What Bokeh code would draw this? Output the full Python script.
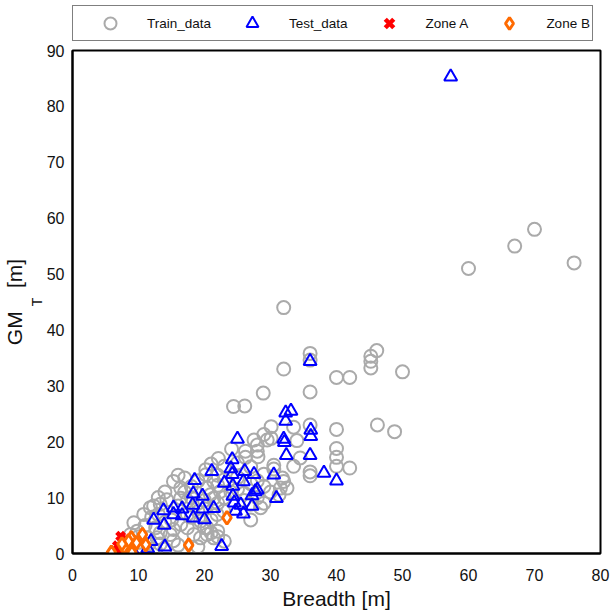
from bokeh.plotting import figure
from bokeh.layouts import column
from bokeh.models import Range1d, Legend, LegendItem, FixedTicker, Title
from bokeh.embed import file_html
from bokeh.resources import INLINE

# Training samples: ship breadth [m] vs transverse metacentric height GM_T [m]
train_breadth = [
    76, 70, 67, 60, 50, 48.8, 46.2, 46.1, 45.2, 45.2, 45.2, 42, 40, 42, 40, 40, 40, 40,
    36, 36, 36, 36, 36, 36, 34, 34.5, 33.5, 33.5, 32.5, 32, 32, 32, 31.8, 31.5, 31.3,
    30.5, 30.5, 30.1, 30.1, 29.5, 29, 28.9, 28.5, 28.1, 28, 28, 27.5, 27, 26.2, 26.2,
    26.1, 24.4, 24.1, 22.9, 22.4, 22.1, 21.9, 21.4, 21.4, 21.4, 20.9, 20.4, 20.4, 20.4,
    20.2, 20.2, 19.4, 19.4, 18.4, 17.4, 17.4, 17.4, 16.4, 16.4, 16.4, 15.3, 15.3, 15.3,
    14.8, 14.3, 13.3, 13.3, 13.3, 12.8, 12.6, 12.6, 12.3, 11.8, 11.6, 11.3, 10.8, 9.8,
    9.3, 8.8,
    18, 19, 20, 22, 23, 24, 25, 26, 22, 23, 25, 27, 28, 29, 29, 27, 25, 23, 22, 18, 17,
    16, 15, 14, 12, 11, 10, 13, 18, 19, 20, 21, 22, 29, 30, 26, 28, 21, 19, 17, 16, 14,
    13, 10, 14, 16, 19, 23, 27, 20, 21, 22,
]
train_gm = [
    52, 58, 55, 51, 32.5, 21.8, 23, 36.3, 35.3, 34.4, 33.2, 31.5, 31.5, 15.3, 22.2, 18.8,
    17.2, 15.6, 35.8, 34.6, 28.9, 23, 14.6, 13.9, 20.2, 17.1, 22.6, 15.6, 11.7, 44, 33,
    12.9, 13.5, 11.7, 10.5, 15.8, 15.1, 22.7, 20.6, 20.3, 21.3, 28.7, 8.2, 17.3, 18.3,
    19.4, 20.3, 6, 18.3, 17.2, 26.4, 26.3, 18.7, 7.6, 11.1, 17, 7, 12.9, 9.9, 2.8, 10.5,
    11.7, 4.6, 3.4, 15, 14.1, 5.8, 2.8, 3.4, 9.4, 7, 4.6, 11.7, 9.9, 5.2, 12.9, 4.3, 2.3,
    3.4, 9.6, 8.8, 3.7, 1.7, 2.8, 4.6, 0.5, 8.5, 8.2, 1.7, 2.8, 7, 4, 5.5, 3.4,
    10, 9, 9.5, 9, 10, 11, 11.5, 10.8, 12.2, 13.2, 13.6, 12.5, 13, 12, 14.2, 15.5, 16.2,
    15.6, 14, 12, 11, 8.5, 6, 5.6, 6.5, 5, 3, 7, 6.5, 7.5, 8, 6, 4, 9, 11, 9.5, 10, 16,
    13, 13.5, 14, 11, 10, 2, 0.8, 1.5, 1.2, 2.2, 8.8, 4.6, 3.7, 3.0,
]

# Test samples
test_breadth = [
    57.3, 36, 33.1, 32.3, 32.3, 36.1, 36.1, 32, 32.1, 25, 32.4, 36, 38.1, 40, 24.2, 24,
    24.2, 21.1, 26.1, 27.5, 30.5, 18.5, 23, 24.3, 25.9, 28, 27.7, 27.2, 30.9, 24.3, 18.3,
    19.7, 24.5, 25.5, 27.2, 18.2, 15.3, 16.6, 19.7, 21.4, 24.7, 25.9, 13.8, 15.3, 16.6,
    18.3, 20, 12.3, 13.9, 11.9, 14, 22.6, 9.2, 11.4,
]
test_gm = [
    85.3, 34.4, 25.5, 25.2, 23.7, 22.1, 21, 20.5, 19.9, 20.5, 17.6, 17.6, 14.4, 13, 16.8,
    15.2, 14.2, 14.7, 14.7, 14.2, 14.1, 13.1, 12.6, 12.1, 12.9, 11.4, 11.1, 10.4, 9.9,
    10.3, 10.7, 10.3, 9.1, 8.7, 8.5, 8.7, 8.2, 8.0, 8.0, 8.1, 7.6, 7.1, 7.7, 7.0, 6.8,
    6.4, 6.1, 6.0, 5.1, 2.2, 1.2, 1.3, 0.3, 0.9,
]

# Zone A samples
zone_a_breadth = [7.3, 6.8, 7.3, 7.8, 8.3, 7.0, 8.0, 8.6]
zone_a_gm = [3.1, 1.4, 1.1, 0.6, 2.0, 0.2, 2.6, 1.3]

# Zone B samples
zone_b_breadth = [23.4, 17.6, 10.6, 11.1, 8.9, 8.5, 7.8, 5.9, 9.0, 7.5, 9.7]
zone_b_gm = [6.4, 1.5, 3.4, 1.6, 2.8, 2.2, 1.1, 0.2, 0.2, 1.7, 1.9]

series_labels = ["Train_data", "Test_data", "Zone A", "Zone B"]
series_x = [train_breadth, test_breadth, zone_a_breadth, zone_b_breadth]
series_y = [train_gm, test_gm, zone_a_gm, zone_b_gm]

x_ticks = [0, 10, 20, 30, 40, 50, 60, 70, 80]
y_ticks = [0, 10, 20, 30, 40, 50, 60, 70, 80, 90]

FONT = "Liberation Sans"
TEXT_COLOR = "#111111"
LEGEND_H = 42

# marker styles shared by the plot and the legend strip
STYLES = [
    dict(marker="circle", size=13, fill_color=None, line_color="#aaaaaa", line_width=2),
    dict(marker="triangle", size=13, fill_color=None, line_color="#0000ff", line_width=2),
    dict(marker="x", size=11, line_color="#ff0000", line_width=4.5),
    dict(marker="diamond", size=13, fill_color="white", line_color="#ff6a00", line_width=3),
]

p = figure(
    width=612, height=612 - LEGEND_H,
    output_backend="svg", toolbar_location=None,
    x_range=Range1d(0, 80), y_range=Range1d(0, 90),
    min_border_left=72, min_border_right=12, min_border_top=8, min_border_bottom=58,
    background_fill_color="white", border_fill_color="white",
)
p.grid.visible = False
p.outline_line_color = "black"
p.outline_line_width = 2

for ax in (p.xaxis[0], p.yaxis[0]):
    ax.major_tick_line_color = None
    ax.minor_tick_line_color = None
    ax.major_tick_out = 0
    ax.major_tick_in = 0
    ax.minor_tick_out = 0
    ax.minor_tick_in = 0
    ax.axis_line_color = "black"
    ax.axis_line_width = 2
    ax.major_label_text_font = FONT
    ax.major_label_text_font_size = "16px"
    ax.major_label_text_color = TEXT_COLOR
    ax.axis_label_text_font = FONT
    ax.axis_label_text_font_style = "normal"
    ax.axis_label_text_color = TEXT_COLOR

p.xaxis[0].ticker = FixedTicker(ticks=x_ticks)
p.yaxis[0].ticker = FixedTicker(ticks=y_ticks)
p.xaxis[0].major_label_standoff = 15
p.yaxis[0].major_label_standoff = 8
p.xaxis[0].axis_label = "Breadth [m]"
p.xaxis[0].axis_label_text_font_size = "21px"
p.xaxis[0].axis_label_standoff = 3

# y-axis title "GM_T [m]": the subscript sits on the axis itself,
# the main part is a side title with a gap left for the subscript
p.yaxis[0].axis_label = "T"
p.yaxis[0].axis_label_text_font_size = "14px"
p.yaxis[0].axis_label_standoff = -1
p.add_layout(Title(text="GM\u00a0\u00a0\u00a0\u00a0[m]", align="center", text_font=FONT,
                   text_font_size="21px", text_font_style="normal",
                   text_color=TEXT_COLOR, standoff=0, offset=0), "left")

for xs, ys, st in zip(series_x, series_y, STYLES):
    p.scatter(xs, ys, **st)

# Legend strip above the plot; its ranges keep the key series out of view
leg = figure(
    width=612, height=LEGEND_H,
    output_backend="svg", toolbar_location=None,
    x_range=Range1d(-200, -100), y_range=Range1d(-200, -100),
    x_axis_type=None, y_axis_type=None,
    min_border_left=72, min_border_right=12, min_border_top=0, min_border_bottom=0,
    outline_line_color=None,
    background_fill_color="white", border_fill_color="white",
)
leg.grid.visible = False
key_renderers = [leg.scatter(xs, ys, **st) for xs, ys, st in zip(series_x, series_y, STYLES)]

legend = Legend(
    items=[LegendItem(label=lab, renderers=[r]) for lab, r in zip(series_labels, key_renderers)],
    orientation="horizontal",
    location=(0, 1),
    glyph_width=70, glyph_height=30,
    label_standoff=2, spacing=6, padding=2, margin=0,
    label_text_font=FONT, label_text_font_size="13.5px", label_text_color=TEXT_COLOR,
    border_line_color="black", border_line_width=1.5,
    background_fill_color="white", background_fill_alpha=1.0,
)
leg.add_layout(legend, "center")

layout = column(leg, p, spacing=0)
open("out.html", "w").write(file_html(layout, INLINE))
